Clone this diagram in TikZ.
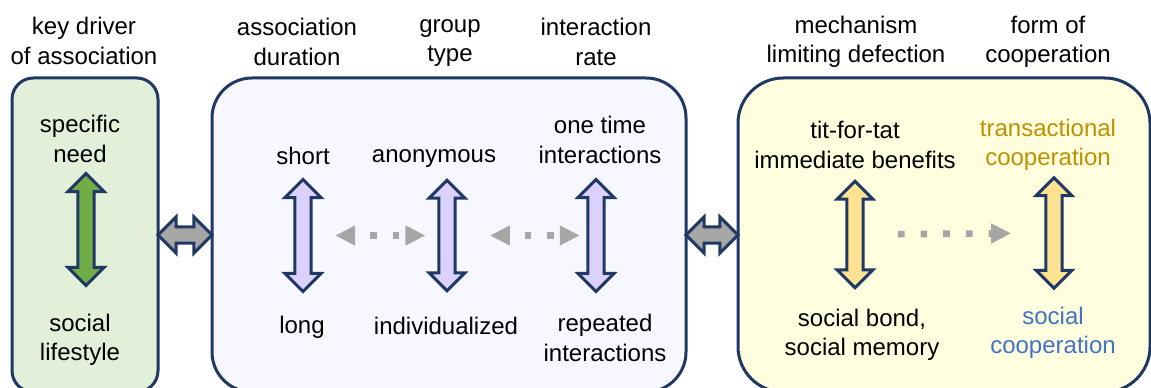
\documentclass[tikz,border=0pt]{standalone}
\usepackage{fontspec}
\setmainfont{Liberation Sans}
\usepackage{xcolor}
\usepackage{tikz}
\usetikzlibrary{shapes.arrows, arrows.meta}

\definecolor{navy}{HTML}{203864}
\definecolor{boxgreen}{HTML}{E2F0D9}
\definecolor{boxlilac}{HTML}{F7F7FF}
\definecolor{boxyellow}{HTML}{FFFFDF}
\definecolor{arrgreen}{HTML}{70AD47}
\definecolor{arrlilac}{HTML}{DCD0FC}
\definecolor{arryellow}{HTML}{FFE292}
\definecolor{arrgray}{HTML}{A6A6A6}
\definecolor{txtgold}{HTML}{BF9000}
\definecolor{txtblue}{HTML}{4472C4}

\begin{document}
\begin{tikzpicture}[
    x=0.75pt, y=-0.75pt,
    font=\fontsize{18pt}{22pt}\selectfont,
    txt/.style={align=center, inner sep=0pt},
    panel/.style={rectangle, draw=navy, line width=2.25pt, minimum height=235.5pt},
    updown/.style={double arrow, rotate=90, draw=navy, line width=2.25pt, inner xsep=0pt, inner ysep=4.9pt, double arrow head extend=7.5pt},
    link/.style={double arrow, draw=navy, line width=2.25pt, fill=arrgray, inner xsep=0pt, inner ysep=4.9pt, double arrow head extend=7.5pt},
    dots/.style={arrgray, line width=5pt, dash pattern=on 5pt off 12pt, >={Triangle[length=15pt, width=14pt]}}
]
\useasboundingbox (0,0) rectangle (1151,388);

% panels
\node[panel, fill=boxgreen, rounded corners=16pt, minimum width=109.5pt] (driver) at (85,235) {};
\node[panel, fill=boxlilac, rounded corners=30pt, minimum width=355.5pt] (social) at (449,235) {};
\node[panel, fill=boxyellow, rounded corners=34pt, minimum width=309pt] (coop) at (944,235) {};

\node[link, minimum height=40.5pt] (link1) at (185,235) {};
\node[link, minimum height=39pt] (link2) at (712,235) {};

% column headings
\node[txt] (hdriver) at (84,41) {key driver\\of association};
\node[txt] (hdur) at (297,42) {association\\duration};
\node[txt] (hgroup) at (450,43) {group\\type};
\node[txt] (hrate) at (596,42) {interaction\\rate};
\node[txt] (hmech) at (856,42) {mechanism\\limiting defection};
\node[txt] (hform) at (1048,42) {form of\\cooperation};

% scales inside the panels
\node[updown, fill=arrgreen, minimum height=84pt] (need) at (86,229.5) {};
\node[updown, fill=arrlilac, minimum height=84pt] (dur) at (303,235.5) {};
\node[updown, fill=arrlilac, minimum height=83pt] (grp) at (447,235.5) {};
\node[updown, fill=arrlilac, minimum height=84pt] (rate) at (596,235.5) {};
\node[updown, fill=arryellow, minimum height=80pt] (mech) at (855,234.5) {};
\node[updown, fill=arryellow, minimum height=83pt] (form) at (1054,233) {};

\node[txt] (tneed) at (80,139) {specific\\need};
\node[txt] (tlife) at (80,340) {social\\lifestyle};
\node[txt] (tshort) at (303,156) {short};
\node[txt] (tlong) at (302,327) {long};
\node[txt] (tanon) at (434,159) {anonymous};
\node[txt] (tindiv) at (446,326) {individualized};
\node[txt] (tonce) at (600,140) {one time\\interactions};
\node[txt] (trep) at (605,338) {repeated\\interactions};
\node[txt] (ttit) at (855,145) {tit-for-tat\\immediate benefits};
\node[txt] (tbond) at (862,335) {social bond,\\social memory};
\node[txt, text=txtgold] (ttrans) at (1048,145) {transactional\\cooperation};
\node[txt, text=txtblue] (tsoc) at (1053,333) {social\\cooperation};

\draw[dots, <->, dash phase=5pt, shorten <=17pt, shorten >=9pt] (dur) -- (grp);
\draw[dots, <->, dash phase=5pt, shorten <=25pt, shorten >=5pt] (grp) -- (rate);
\draw[dots, ->, shorten <=25pt, shorten >=25pt] (mech) -- (form);

\end{tikzpicture}
\end{document}
